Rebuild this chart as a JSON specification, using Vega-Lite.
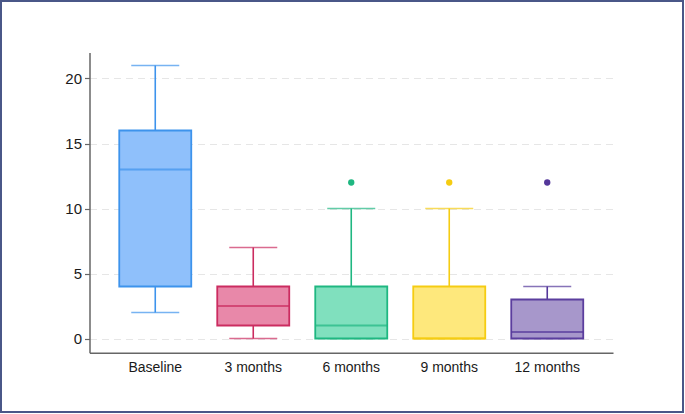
{
  "$schema": "https://vega.github.io/schema/vega-lite/v6.json",
  "width": 682,
  "height": 411,
  "autosize": {"type": "none"},
  "padding": {"left": 1, "top": 1, "right": 2, "bottom": 2},
  "background": "white",
  "config": {
    "view": {"stroke": "#4a5788", "strokeWidth": 2},
    "font": "Liberation Sans"
  },
  "datasets": {
    "stats": [
      {"group": "Baseline", "min": 2, "q1": 4, "median": 13, "q3": 16, "max": 21},
      {"group": "3 months", "min": 0, "q1": 1, "median": 2.5, "q3": 4, "max": 7},
      {"group": "6 months", "min": 0, "q1": 0, "median": 1, "q3": 4, "max": 10},
      {"group": "9 months", "min": 0, "q1": 0, "median": 0, "q3": 4, "max": 10},
      {"group": "12 months", "min": 0, "q1": 0, "median": 0.5, "q3": 3, "max": 4}
    ],
    "outliers": [
      {"group": "6 months", "value": 12},
      {"group": "9 months", "value": 12},
      {"group": "12 months", "value": 12}
    ]
  },
  "data": {"name": "stats"},
  "encoding": {
    "x": {
      "field": "group",
      "type": "nominal",
      "sort": ["Baseline", "3 months", "6 months", "9 months", "12 months"],
      "scale": {"range": [88.5, 612], "paddingInner": 0, "paddingOuter": 0.171},
      "axis": {
        "title": null,
        "offset": -59.2,
        "labelAngle": 0,
        "ticks": false,
        "labelPadding": 8,
        "labelFontSize": 14,
        "labelColor": "#1a1a1a",
        "domainColor": "#666666",
        "domainWidth": 1.5,
        "grid": false
      }
    }
  },
  "layer": [
    {
      "mark": {"type": "rule", "strokeWidth": 1.6},
      "encoding": {
        "y": {
          "field": "min",
          "type": "quantitative",
          "scale": {"domain": [-1.1, 22], "range": [351.8, 51.5], "nice": false, "zero": false},
          "axis": {
            "title": null,
            "offset": -88.5,
            "values": [0, 5, 10, 15, 20],
            "labelFontSize": 15,
            "labelColor": "#1a1a1a",
            "labelPadding": 3,
            "tickSize": 5,
            "tickColor": "#666666",
            "tickWidth": 1.2,
            "domainColor": "#666666",
            "domainWidth": 1.5,
            "grid": true,
            "gridColor": "#e6e6e6",
            "gridDash": [7, 5],
            "gridWidth": 1.2
          }
        },
        "y2": {"field": "q1"},
        "color": {"field": "group", "type": "nominal", "legend": null, "scale": {"domain": ["Baseline", "3 months", "6 months", "9 months", "12 months"], "range": ["#3d93ec", "#cb2c60", "#1fb781", "#f5cc12", "#54379a"]}}
      }
    },
    {
      "mark": {"type": "rule", "strokeWidth": 1.6},
      "encoding": {
        "y": {"field": "q3", "type": "quantitative"},
        "y2": {"field": "max"},
        "color": {"field": "group", "type": "nominal", "legend": null, "scale": {"domain": ["Baseline", "3 months", "6 months", "9 months", "12 months"], "range": ["#3d93ec", "#cb2c60", "#1fb781", "#f5cc12", "#54379a"]}}
      }
    },
    {
      "mark": {"type": "tick", "size": 48, "thickness": 1.6},
      "encoding": {
        "y": {"field": "min", "type": "quantitative"},
        "color": {"field": "group", "type": "nominal", "legend": null, "scale": {"domain": ["Baseline", "3 months", "6 months", "9 months", "12 months"], "range": ["#3d93ec", "#cb2c60", "#1fb781", "#f5cc12", "#54379a"]}}
      }
    },
    {
      "mark": {"type": "tick", "size": 48, "thickness": 1.6},
      "encoding": {
        "y": {"field": "max", "type": "quantitative"},
        "color": {"field": "group", "type": "nominal", "legend": null, "scale": {"domain": ["Baseline", "3 months", "6 months", "9 months", "12 months"], "range": ["#3d93ec", "#cb2c60", "#1fb781", "#f5cc12", "#54379a"]}}
      }
    },
    {
      "mark": {"type": "bar", "size": 72, "strokeWidth": 1.8, "fillOpacity": 1},
      "encoding": {
        "y": {"field": "q1", "type": "quantitative"},
        "y2": {"field": "q3"},
        "fill": {"field": "group", "type": "nominal", "legend": null, "scale": {"domain": ["Baseline", "3 months", "6 months", "9 months", "12 months"], "range": ["#8fc0fb", "#e888a9", "#80e0be", "#fee87c", "#a797cb"]}},
        "stroke": {"field": "group", "type": "nominal", "legend": null, "scale": {"domain": ["Baseline", "3 months", "6 months", "9 months", "12 months"], "range": ["#3d93ec", "#cb2c60", "#1fb781", "#f5cc12", "#5b3e9e"]}}
      }
    },
    {
      "mark": {"type": "tick", "size": 72, "thickness": 2},
      "encoding": {
        "y": {"field": "median", "type": "quantitative"},
        "color": {"field": "group", "type": "nominal", "legend": null, "scale": {"domain": ["Baseline", "3 months", "6 months", "9 months", "12 months"], "range": ["#3d93ec", "#cb2c60", "#1fb781", "#f5cc12", "#54379a"]}}
      }
    },
    {
      "data": {"name": "outliers"},
      "mark": {"type": "point", "filled": true, "size": 40, "opacity": 1},
      "encoding": {
        "y": {"field": "value", "type": "quantitative"},
        "color": {"field": "group", "type": "nominal", "legend": null, "scale": {"domain": ["Baseline", "3 months", "6 months", "9 months", "12 months"], "range": ["#3d93ec", "#cb2c60", "#1fb781", "#f5cc12", "#54379a"]}}
      }
    }
  ]
}
